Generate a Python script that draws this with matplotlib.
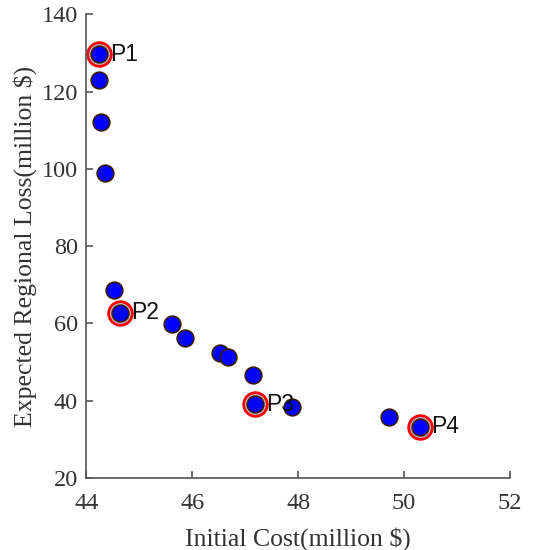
import matplotlib
matplotlib.use("Agg")
import matplotlib.pyplot as plt

cost = [44.25, 44.25, 44.27, 44.36, 44.53, 44.64, 45.62, 45.87, 46.52, 46.67, 47.14, 47.19, 47.88, 49.72, 50.30]
loss = [129.6, 122.9, 112.0, 99.0, 68.7, 62.7, 59.8, 56.3, 52.3, 51.4, 46.6, 39.1, 38.3, 35.8, 33.2]
sel_cost = [44.25, 44.64, 47.19, 50.30]
sel_loss = [129.6, 62.7, 39.1, 33.2]
sel_names = ["P1", "P2", "P3", "P4"]
xticks = [44, 46, 48, 50, 52]
yticks = [20, 40, 60, 80, 100, 120, 140]

fig = plt.figure(figsize=(5.39, 5.5), dpi=100)
ax = fig.add_axes([0.16, 0.131, 0.786, 0.843])

ax.plot(sel_cost, sel_loss, linestyle="none", marker="o", markersize=17,
        markerfacecolor="#bbbbbb", markeredgecolor="red", markeredgewidth=2, zorder=2)
ax.plot(cost, loss, linestyle="none", marker="o", markersize=12,
        markerfacecolor="#0000ff", markeredgecolor="#3a1a10", markeredgewidth=1.2, zorder=3)
for xx, yy, nm in zip(sel_cost, sel_loss, sel_names):
    ax.annotate(nm, (xx, yy), xytext=(8, 0), textcoords="offset points",
                ha="left", va="center", fontsize=16.5, family="Liberation Sans", color="#111111", zorder=4)

ax.set_xlim(44, 52)
ax.set_ylim(20, 140)
ax.set_xticks(xticks)
ax.set_yticks(yticks)
for s in ["top", "right"]:
    ax.spines[s].set_visible(False)
for s in ["left", "bottom"]:
    ax.spines[s].set_color("#555555")
    ax.spines[s].set_linewidth(1.2)
ax.tick_params(direction="in", length=5, width=1.2, color="#555555", labelsize=17.5)
ax.tick_params(axis="x", pad=11)
ax.tick_params(axis="y", pad=6)
for lab in ax.get_xticklabels() + ax.get_yticklabels():
    lab.set_family("Liberation Serif")
    lab.set_color("#333333")
ax.set_xlabel("Initial Cost(million $)", fontsize=18.5, family="Liberation Serif", color="#333333", labelpad=9)
ax.set_ylabel("Expected Regional Loss(million $)", fontsize=18.5, family="Liberation Serif", color="#333333", labelpad=3)

fig.savefig("out.png", dpi=100)
